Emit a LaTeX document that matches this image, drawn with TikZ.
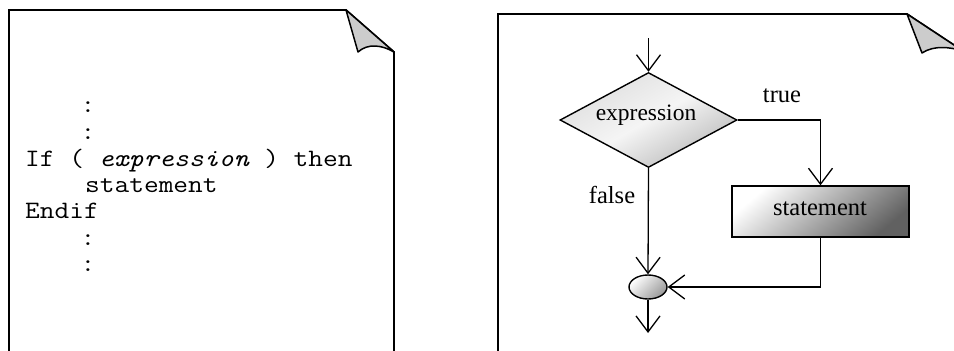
\documentclass[tikz,border=0pt]{standalone}
\usepackage{fontspec}
\usepackage{graphicx}
\setmainfont{Liberation Serif}
\usetikzlibrary{shapes.geometric,arrows.meta}
\newcommand{\codeline}[1]{\scalebox{1.143}[1]{#1}}
\begin{document}
\begin{tikzpicture}[x=1pt,y=-1pt,
  page/.style={line width=1.8pt, line join=miter},
  fold/.style={line width=1.5pt, fill=black!20, line join=round},
  code/.style={font=\ttfamily\fontsize{25}{26}\selectfont, inner sep=0pt},
  lbl/.style={font=\fontsize{24.5}{26}\selectfont, inner sep=0pt},
  dia/.style={diamond, draw, line width=1.4pt, aspect=1.86, minimum width=177pt, minimum height=95pt, inner sep=0pt,
    top color=black!13, bottom color=black!27, middle color=black!4, shading angle=30},
  stmt/.style={rectangle, draw, line width=1.4pt, minimum width=177pt, minimum height=51pt, inner sep=0pt,
    top color=white, bottom color=black!62, shading angle=40},
  joinnode/.style={ellipse, draw, line width=1.4pt, minimum width=38pt, minimum height=24pt, inner sep=0pt,
    top color=white, bottom color=black!40, shading angle=45},
  conn/.style={line width=1.3pt, -{Straight Barb[length=16pt, width=24pt, line width=1.3pt]}}
]
\useasboundingbox (0,0) rectangle (954,351);
\clip (0,0) rectangle (954,351);

% left page
\draw[page] (9,360) -- (9,10) -- (346,10) -- (394,52) -- (394,360);
\draw[fold] (346,10) -- (358,52) .. controls (368,43) and (382,45) .. (394,52) -- cycle;

% right page
\draw[page] (498,360) -- (498,14) -- (907,14) -- (963,51);
\draw[fold] (907,14) -- (922,53) .. controls (934,45) and (950,47) .. (963,51) -- cycle;

% code text
\node[code, anchor=base] (c1) at (88,112) {\codeline{:}};
\node[code, anchor=base] (c2) at (88,139) {\codeline{:}};
\node[code, anchor=base west] (l1) at (25,166) {\codeline{If ( \textit{expression} ) then}};
\node[code, anchor=base west] (l2) at (85,192) {\codeline{statement}};
\node[code, anchor=base west] (l3) at (25,218) {\codeline{Endif}};
\node[code, anchor=base] (c3) at (88,245) {\codeline{:}};
\node[code, anchor=base] (c4) at (88,271) {\codeline{:}};

% flowchart
\node[dia] (d) at (648.5,120) {};
\node[lbl, font=\fontsize{23.5}{26}\selectfont, anchor=base] (dt) at (646,120) {expression};
\node[stmt] (s) at (820.5,211.5) {};
\node[lbl, anchor=base] (st) at (820,215) {statement};
\node[joinnode] (e) at (648,287) {};
\node[lbl, anchor=base] (tr) at (782,102) {true};
\node[lbl, anchor=base] (fa) at (612,203) {false};

\coordinate (in) at (648.5,38);
\coordinate (out) at (648,333);

\draw[conn] (in) -- (d.north);
\draw[conn] (d.east) -| (s.north);
\draw[conn] (d.south) -- (e.north);
\draw[conn] (s.south) |- (e.east);
\draw[conn] (e.south) -- (out);
\end{tikzpicture}
\end{document}
